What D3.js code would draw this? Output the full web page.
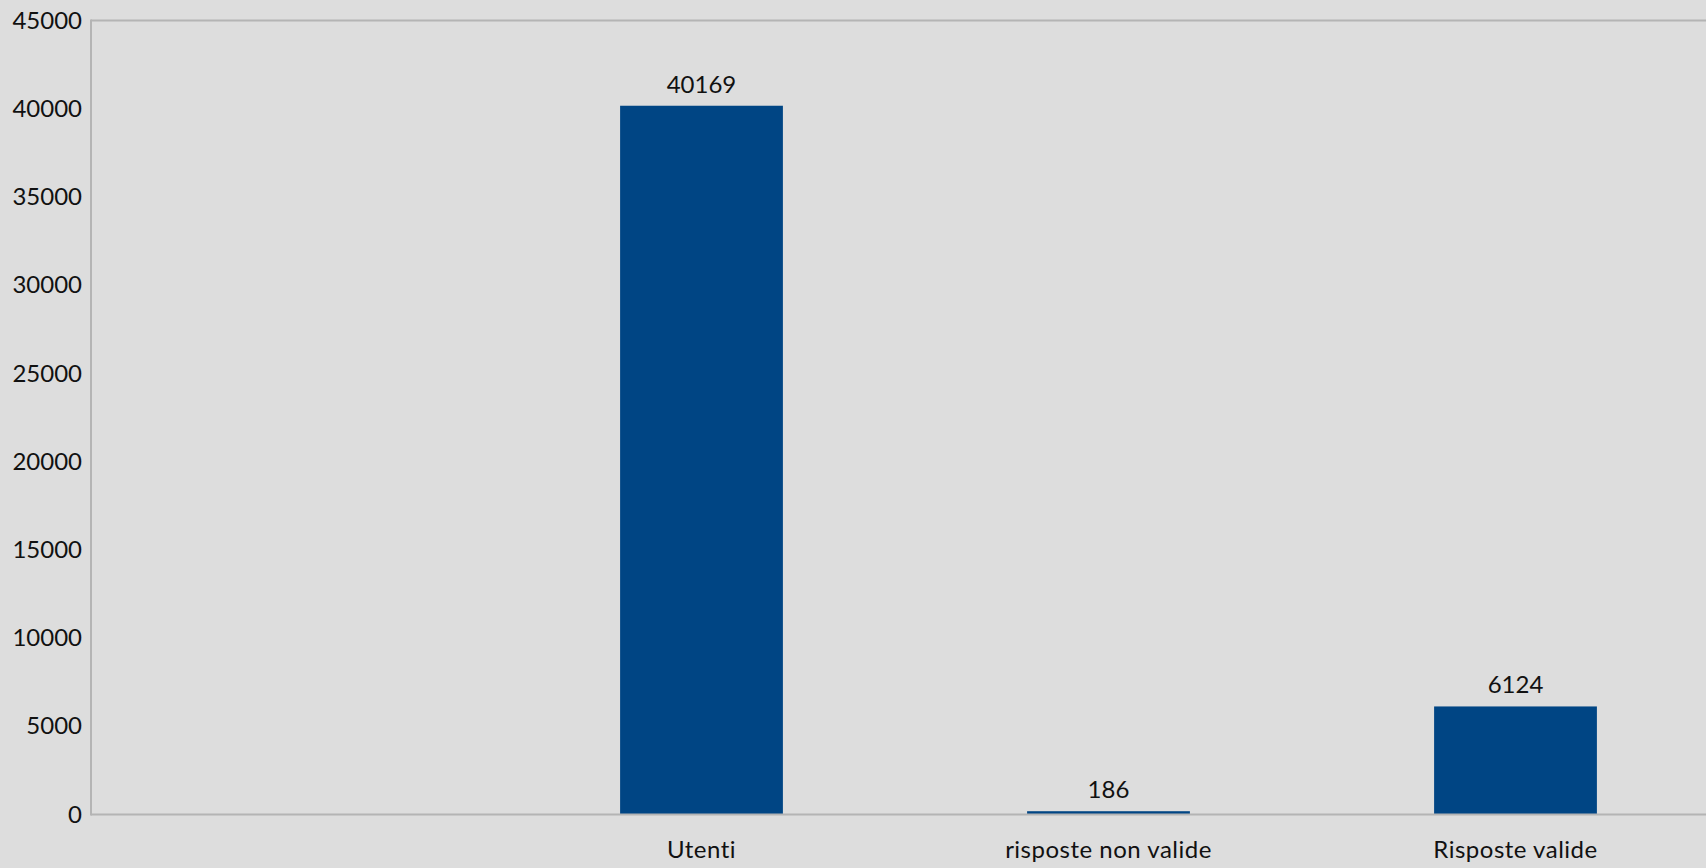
<!DOCTYPE html>
<html>
<head>
<meta charset="utf-8">
<script src="https://cdn.jsdelivr.net/npm/d3@7"></script>
<style>
  html, body { margin: 0; padding: 0; background: #dddddd; overflow: hidden; }
  svg { display: block; }
  text { font-family: Lato, "Open Sans", sans-serif; fill: #111; font-variant-ligatures: none; }
</style>
</head>
<body>
<svg id="chart" width="1706" height="868"></svg>
<script>
// Categories (the first slot is an unlabelled, empty one)
const categories = ["", "Utenti", "risposte non valide", "Risposte valide"];
const values = [null, 40169, 186, 6124];
const yTicks = [0, 5000, 10000, 15000, 20000, 25000, 30000, 35000, 40000, 45000];

(function () {
  const svg = d3.select("#chart");
  const plotLeft = 91, plotTop = 20.5, plotBottom = 814.5;
  const step = 407;
  const plotRight = plotLeft + step * categories.length;

  const x = d3.scaleBand()
    .domain(categories)
    .range([plotLeft, plotRight])
    .paddingInner(0.6)
    .paddingOuter(0.3);

  const y = d3.scaleLinear().domain([0, 45000]).range([plotBottom, plotTop]);

  const lineColor = "#b4b4b4";
  // Top border
  svg.append("line").attr("x1", plotLeft).attr("x2", 1706).attr("y1", plotTop).attr("y2", plotTop)
    .attr("stroke", lineColor).attr("stroke-width", 2);

  // Bars
  const data = categories.map((c, i) => ({ c, v: values[i] })).filter(d => d.v != null);
  svg.selectAll("rect.bar").data(data).enter().append("rect")
    .attr("class", "bar")
    .attr("x", d => x(d.c))
    .attr("width", x.bandwidth())
    .attr("y", d => y(d.v))
    .attr("height", d => y(0) - y(d.v))
    .attr("fill", "#004584");

  // Baseline and left axis line
  svg.append("line").attr("x1", plotLeft).attr("x2", 1706).attr("y1", plotBottom).attr("y2", plotBottom)
    .attr("stroke", lineColor).attr("stroke-width", 2);
  svg.append("line").attr("x1", plotLeft).attr("x2", plotLeft).attr("y1", plotTop - 1).attr("y2", plotBottom + 1)
    .attr("stroke", lineColor).attr("stroke-width", 2);

  // Y axis labels
  const yAxis = d3.axisLeft(y).tickValues(yTicks).tickSize(0).tickPadding(9).tickFormat(d3.format("d"));
  const gy = svg.append("g").attr("transform", `translate(${plotLeft},0)`).call(yAxis);
  gy.select(".domain").remove();
  gy.selectAll("text").style("font-size", "24px").attr("fill", "#111")
    .style("font-family", "Lato, 'Open Sans', sans-serif");

  // Category labels
  const xAxis = d3.axisBottom(x).tickSize(0).tickPadding(26);
  const gx = svg.append("g").attr("transform", `translate(0,${plotBottom})`).call(xAxis);
  gx.select(".domain").remove();
  gx.selectAll("text").style("font-size", "24px").attr("fill", "#111")
    .style("letter-spacing", "0.5px")
    .style("font-family", "Lato, 'Open Sans', sans-serif");

  // Value labels above bars
  svg.selectAll("text.val").data(data).enter().append("text")
    .attr("class", "val")
    .attr("x", d => x(d.c) + x.bandwidth() / 2)
    .attr("y", d => y(d.v) - 13)
    .attr("text-anchor", "middle")
    .style("font-size", "24px")
    .text(d => d.v);
})();
</script>
</body>
</html>
